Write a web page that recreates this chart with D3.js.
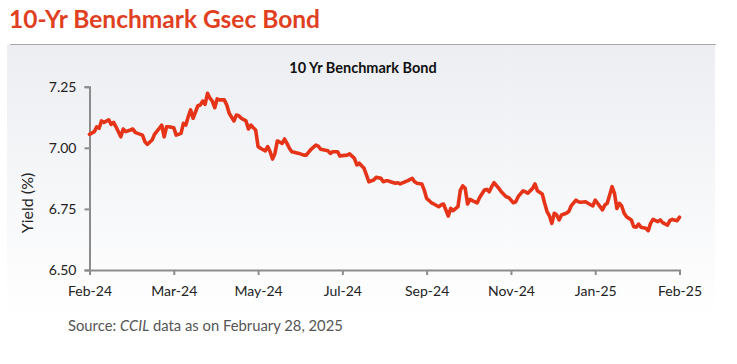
<!DOCTYPE html>
<html>
<head>
<meta charset="utf-8">
<script src="https://cdn.jsdelivr.net/npm/d3@7"></script>
<style>
  body { margin: 0; background: #fff; }
  svg { display: block; }
</style>
</head>
<body>
<div id="chart"></div>
<script>
// tick labels on the category axis, one every 35 trading days
var tickLabels = ["Feb-24", "Mar-24", "May-24", "Jul-24", "Sep-24", "Nov-24", "Jan-25", "Feb-25"];
var tickDays = [0, 35, 70, 105, 140, 175, 210, 245];
var yTicks = [6.50, 6.75, 7.00, 7.25];

// [trading day, yield %]
var series = [
  [0,7.055],[2,7.066],[3,7.086],[4,7.080],[5,7.110],[6,7.104],[8,7.114],[9,7.096],[10,7.104],[11,7.086],
  [13,7.045],[14,7.077],[15,7.066],[17,7.073],[18,7.077],[19,7.063],[20,7.059],[22,7.052],[23,7.025],[24,7.014],
  [26,7.032],[27,7.055],[29,7.080],[30,7.093],[31,7.045],[32,7.086],[33,7.086],[35,7.082],[36,7.052],[38,7.059],
  [39,7.100],[40,7.093],[41,7.127],[42,7.155],[43,7.121],[45,7.172],[46,7.175],[47,7.191],[48,7.178],[49,7.223],
  [50,7.203],[51,7.191],[52,7.164],[53,7.200],[54,7.196],[56,7.196],[57,7.175],[58,7.141],[60,7.110],[61,7.134],
  [62,7.131],[63,7.121],[65,7.110],[66,7.077],[67,7.093],[68,7.082],[69,7.073],[70,7.005],[71,6.998],[73,6.987],
  [74,7.005],[75,6.984],[76,6.954],[77,6.977],[78,7.028],[80,7.018],[81,7.036],[82,7.018],[83,6.998],[84,6.984],
  [85,6.982],[87,6.977],[89,6.970],[90,6.970],[92,6.994],[94,7.011],[95,7.007],[96,6.994],[99,6.988],[100,6.977],
  [101,6.984],[103,6.984],[104,6.966],[105,6.968],[107,6.970],[108,6.975],[110,6.957],[111,6.930],[112,6.937],[114,6.916],
  [115,6.889],[116,6.861],[118,6.868],[119,6.879],[121,6.875],[122,6.861],[123,6.865],[124,6.865],[125,6.861],[127,6.855],
  [128,6.857],[129,6.852],[131,6.861],[132,6.865],[134,6.875],[135,6.861],[136,6.855],[138,6.852],[139,6.827],[140,6.793],
  [142,6.775],[143,6.770],[145,6.759],[146,6.766],[147,6.770],[149,6.721],[150,6.752],[151,6.743],[153,6.759],[154,6.827],
  [155,6.844],[156,6.834],[157,6.770],[158,6.789],[159,6.784],[161,6.775],[162,6.797],[164,6.827],[165,6.830],[166,6.820],
  [167,6.841],[168,6.857],[170,6.834],[171,6.820],[173,6.800],[174,6.797],[176,6.775],[177,6.779],[178,6.800],[180,6.824],
  [181,6.820],[182,6.814],[184,6.834],[185,6.852],[186,6.824],[188,6.811],[189,6.773],[190,6.739],[191,6.721],[192,6.691],
  [193,6.732],[194,6.725],[195,6.705],[196,6.725],[198,6.732],[199,6.739],[200,6.762],[202,6.786],[203,6.779],[204,6.777],
  [206,6.779],[207,6.773],[209,6.762],[210,6.786],[211,6.773],[213,6.746],[214,6.766],[215,6.773],[217,6.841],[218,6.814],
  [219,6.752],[220,6.773],[221,6.762],[222,6.732],[223,6.718],[225,6.705],[226,6.677],[227,6.675],[228,6.688],[229,6.675],
  [231,6.671],[232,6.661],[233,6.691],[234,6.707],[236,6.698],[237,6.705],[238,6.694],[240,6.684],[241,6.702],[242,6.707],
  [244,6.702],[245,6.716]
];

var par = {
  w: 737, h: 364,
  left: 89.5, right: 679.5, top: 86.7, bottom: 270,
  font: "Lato, 'Open Sans', sans-serif",
  red: "#e63419",
  axis: "#8c8c8c"
};

var svg = d3.select("#chart").append("svg")
  .attr("width", par.w)
  .attr("height", par.h);

// panel background, light grey fading to white
var grad = svg.append("defs").append("linearGradient")
  .attr("id", "bg").attr("x1", 0).attr("x2", 0).attr("y1", 0).attr("y2", 1);
grad.append("stop").attr("offset", "0%").attr("stop-color", "#eceef2");
grad.append("stop").attr("offset", "100%").attr("stop-color", "#ffffff");

svg.append("rect")
  .attr("x", 7).attr("y", 45).attr("width", 708).attr("height", 272)
  .style("fill", "url(#bg)");

// heading + rule
svg.append("text")
  .attr("x", 9).attr("y", 28)
  .attr("font-family", par.font).attr("font-weight", "bold")
  .attr("font-size", 24.5).attr("fill", "#e0401f")
  .text("10-Yr Benchmark Gsec Bond");

svg.append("line")
  .attr("x1", 10).attr("x2", 716).attr("y1", 44.5).attr("y2", 44.5)
  .style("stroke", "#a6a6a6").style("stroke-width", 1.2);

svg.append("text")
  .attr("x", 363).attr("y", 73)
  .attr("text-anchor", "middle")
  .attr("font-family", par.font).attr("font-weight", "bold")
  .attr("font-size", 14.5).attr("fill", "#111")
  .text("10 Yr Benchmark Bond");

var x = d3.scaleLinear().domain([0, 245]).range([par.left, par.right]);
var y = d3.scaleLinear().domain([6.5, 7.25]).range([par.bottom, par.top]);

// y axis
var gy = svg.append("g")
  .attr("transform", "translate(" + par.left + ",0)")
  .call(d3.axisLeft(y).tickValues(yTicks).tickFormat(d3.format(".2f")).tickSizeOuter(0).tickSize(5).tickPadding(8));

// x axis
var gx = svg.append("g")
  .attr("transform", "translate(0," + par.bottom + ")")
  .call(d3.axisBottom(x).tickValues(tickDays)
    .tickFormat(function(d, i) { return tickLabels[i]; })
    .tickSizeOuter(0).tickSize(5).tickPadding(11));

[gx, gy].forEach(function(g) {
  g.select(".domain").style("stroke", par.axis).style("stroke-width", 2);
  g.selectAll(".tick line").style("stroke", par.axis).style("stroke-width", 2);
  g.selectAll(".tick text")
    .attr("font-family", par.font).attr("font-size", 14).attr("fill", "#222");
});

svg.append("text")
  .attr("transform", "translate(33,203) rotate(-90)")
  .attr("text-anchor", "middle")
  .attr("font-family", par.font).attr("font-size", 16).attr("fill", "#222")
  .text("Yield (%)");

// the yield line
var line = d3.line()
  .x(function(d) { return x(d[0]); })
  .y(function(d) { return y(d[1]); });

svg.append("path")
  .datum(series)
  .attr("d", line)
  .style("fill", "none")
  .style("stroke", par.red)
  .style("stroke-width", 3.6)
  .style("stroke-linejoin", "round")
  .style("stroke-linecap", "round");

// source note
var src = svg.append("text")
  .attr("x", 68).attr("y", 331)
  .attr("font-family", par.font).attr("font-size", 14.8).attr("fill", "#555");
src.append("tspan").text("Source: ");
src.append("tspan").attr("font-style", "italic").text("CCIL");
src.append("tspan").text(" data as on February 28, 2025");
</script>
</body>
</html>
